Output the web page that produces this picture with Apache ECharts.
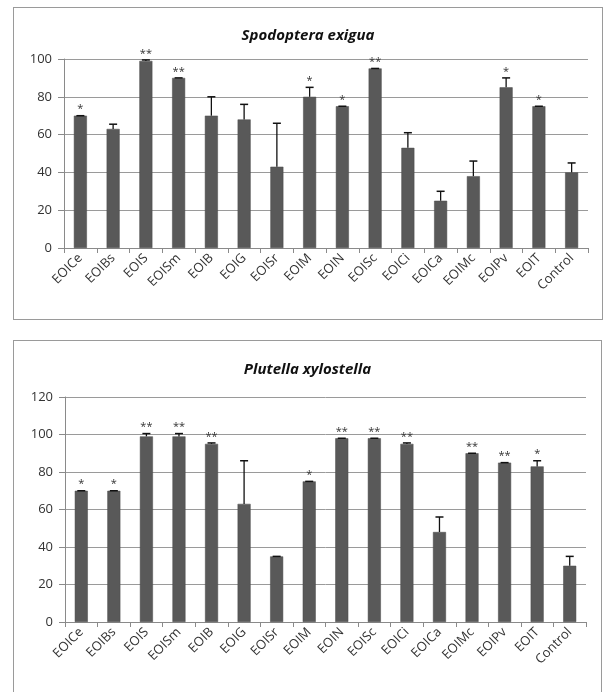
<!DOCTYPE html>
<html>
<head>
<meta charset="utf-8">
<script src="https://cdn.jsdelivr.net/npm/echarts@6/dist/echarts.min.js"></script>
<style>
  html, body { margin: 0; padding: 0; background: #fff; width: 605px; height: 692px; overflow: hidden; }
  .box { position: absolute; border: 1px solid #9a9a9a; background: #fff; }
  #b1 { left: 13px; top: 7px; width: 588px; height: 311px; }
  #b2 { left: 13px; top: 340px; width: 587px; height: 360px; }
  .c { width: 100%; height: 100%; }
</style>
</head>
<body>
<div class="box" id="b1"><div class="c" id="c1"></div></div>
<div class="box" id="b2"><div class="c" id="c2"></div></div>
<script>
// ---- data ----
const categories = ['EOICe','EOIBs','EOIS','EOISm','EOIB','EOIG','EOISr','EOIM','EOIN','EOISc','EOICi','EOICa','EOIMc','EOIPv','EOIT','Control'];

const title1 = 'Spodoptera exigua';
const values1 = [70, 63, 99, 90, 70, 68, 43, 80, 75, 95, 53, 25, 38, 85, 75, 40];
const errors1 = [0, 2.5, 0.5, 0, 10, 8, 23, 5, 0, 0, 8, 5, 8, 5, 0, 5];
const stars1 = ['*', '', '**', '**', '', '', '', '*', '*', '**', '', '', '', '*', '*', ''];
const yTicks1 = [0, 20, 40, 60, 80, 100];

const title2 = 'Plutella xylostella';
const values2 = [70, 70, 99, 99, 95, 63, 35, 75, 98, 98, 95, 48, 90, 85, 83, 30];
const errors2 = [0, 0, 1.5, 1.5, 0.5, 23, 0, 0, 0, 0, 0.5, 8, 0, 0, 3, 5];
const stars2 = ['*', '*', '**', '**', '**', '', '', '*', '**', '**', '**', '', '**', '**', '*', ''];
const yTicks2 = [0, 20, 40, 60, 80, 100, 120];

const FONT = '"Open Sans", "Liberation Sans", sans-serif';

function makeOption(title, values, errors, stars, yTicks, layout) {
  const errData = values.map((v, i) => [i, v, errors[i], stars[i]]);
  return {
    animation: false,
    backgroundColor: '#fff',
    title: {
      text: title,
      left: 'center',
      top: layout.titleTop,
      textStyle: { fontFamily: FONT, fontSize: 15, fontWeight: 'bold', fontStyle: 'italic', color: '#111' }
    },
    grid: { left: layout.left, top: layout.top, width: layout.width, height: layout.height },
    xAxis: {
      type: 'category',
      data: categories,
      boundaryGap: true,
      axisLine: { lineStyle: { color: '#8a8a8a', width: 1 } },
      axisTick: { show: true, alignWithLabel: false, length: 5, lineStyle: { color: '#8a8a8a' } },
      axisLabel: { rotate: 45, interval: 0, margin: 8, fontFamily: FONT, fontSize: 13, color: '#333' }
    },
    yAxis: {
      type: 'value',
      min: yTicks[0],
      max: yTicks[yTicks.length - 1],
      interval: yTicks[1] - yTicks[0],
      axisLine: { show: true, lineStyle: { color: '#8a8a8a', width: 1 } },
      axisTick: { show: true, length: 6, lineStyle: { color: '#8a8a8a' } },
      axisLabel: { margin: 12, fontFamily: FONT, fontSize: 13, color: '#333' },
      splitLine: { show: true, lineStyle: { color: '#9a9a9a', width: 1 } }
    },
    series: [
      {
        type: 'bar',
        data: values,
        barWidth: 13,
        itemStyle: { color: '#595959', borderColor: '#4a4a4a', borderWidth: 0.5 }
      },
      {
        type: 'custom',
        data: errData,
        z: 5,
        renderItem: function (params, api) {
          const i = api.value(0);
          const v = api.value(1);
          const e = api.value(2);
          const s = errData[params.dataIndex][3];
          const p0 = api.coord([i, v]);
          const p1 = api.coord([i, v + e]);
          const half = 4;
          const children = [
            { type: 'line', shape: { x1: p0[0], y1: p0[1], x2: p1[0], y2: p1[1] }, style: { stroke: '#111', lineWidth: 1.3 } },
            { type: 'line', shape: { x1: p1[0] - half, y1: p1[1], x2: p1[0] + half, y2: p1[1] }, style: { stroke: '#111', lineWidth: 1.5 } }
          ];
          if (s) {
            children.push({
              type: 'text',
              style: { text: s, x: p1[0], y: p1[1] - 1, align: 'center', verticalAlign: 'bottom', font: '11px ' + FONT, fill: '#333' }
            });
          }
          return { type: 'group', children: children };
        }
      }
    ]
  };
}

const ch1 = echarts.init(document.getElementById('c1'), null, { renderer: 'canvas' });
ch1.setOption(makeOption(title1, values1, errors1, stars1, yTicks1, { titleTop: 15, left: 50, top: 51, width: 524, height: 189 }));

const ch2 = echarts.init(document.getElementById('c2'), null, { renderer: 'canvas' });
ch2.setOption(makeOption(title2, values2, errors2, stars2, yTicks2, { titleTop: 16, left: 51, top: 56, width: 521, height: 225 }));
</script>
</body>
</html>
